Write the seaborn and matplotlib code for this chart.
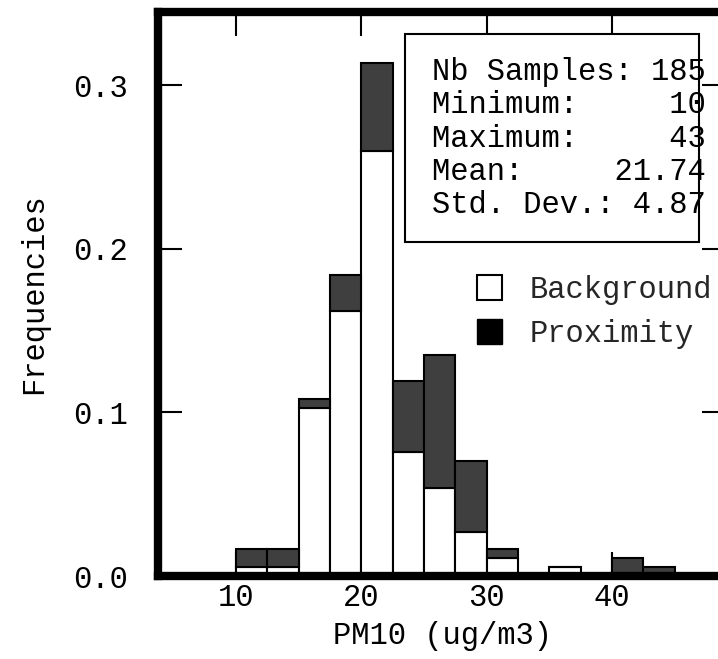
import pandas as pd
import seaborn as sns
import matplotlib.pyplot as plt
from matplotlib.lines import Line2D
from matplotlib.patches import Rectangle

# bins of 2.5 ug/m3, counts (185 samples in total)
bin_edges = [10, 12.5, 15, 17.5, 20, 22.5, 25, 27.5, 30, 32.5, 35, 37.5, 40, 42.5, 45]
background_counts = [1, 1, 19, 30, 48, 14, 10, 5, 2, 0, 1, 0, 0, 0]
proximity_counts = [2, 2, 1, 4, 10, 8, 15, 8, 1, 0, 0, 0, 2, 1]
n_samples = 185

stats_labels = ["Nb Samples:", "Minimum:", "Maximum:", "Mean:", "Std. Dev.:"]
stats_values = ["185", "10", "43", "21.74", "4.87"]

# one row per bin and group, weighted by relative frequency
mids = [(a + b) / 2 for a, b in zip(bin_edges[:-1], bin_edges[1:])]
df = pd.DataFrame({
    "PM10": mids + mids,
    "group": ["Background"] * len(mids) + ["Proximity"] * len(mids),
    "freq": [c / n_samples for c in background_counts + proximity_counts],
})

sns.set_theme(style="ticks")
plt.rcParams['font.family'] = ['Liberation Mono', 'DejaVu Sans Mono']
fs = 22

fig = plt.figure(figsize=(7.18, 6.59), dpi=100)
ax = fig.add_axes([0.2203, 0.1259, 0.7908, 0.8566])

sns.histplot(data=df, x="PM10", weights="freq", hue="group",
             hue_order=["Proximity", "Background"], multiple="stack",
             bins=bin_edges, palette={"Background": "white", "Proximity": "#3f3f3f"},
             edgecolor="black", linewidth=1.5, alpha=1, legend=False, ax=ax)

ax.set_xlim(3.79, 49.1)
ax.set_ylim(0, 0.345)
ax.set_xticks([10, 20, 30, 40])
ax.set_yticks([0.0, 0.1, 0.2, 0.3])
ax.set_yticklabels(["0.0", "0.1", "0.2", "0.3"])
ax.tick_params(direction="in", length=17, width=1.5, top=True, right=True,
               labelsize=fs, color="black", labelcolor="black")
ax.tick_params(axis="y", pad=22)
ax.tick_params(axis="x", pad=5)
for s in ax.spines.values():
    s.set_linewidth(6)
    s.set_color("black")
    s.set_zorder(5)

ax.set_xlabel("PM10 (ug/m3)", fontsize=fs, labelpad=6, color="black")
ax.set_ylabel("Frequencies", fontsize=fs, labelpad=17, color="black")

# statistics box
box = Rectangle((405 / 718, 1 - 242 / 659), (699 - 405) / 718, (242 - 34) / 659,
                transform=fig.transFigure, facecolor="white", edgecolor="black",
                linewidth=1.5, zorder=6)
ax.add_patch(box)
for i, (lab, val) in enumerate(zip(stats_labels, stats_values)):
    line = lab + " " * (15 - len(lab) - len(val)) + val
    fig.text(431.7 / 718, 1 - (80 + 33.3 * i) / 659, line, fontsize=fs,
             ha="left", va="baseline", color="black", zorder=7)

handles = [Line2D([0], [0], marker="s", linestyle="none", markersize=18,
                  markerfacecolor="white", markeredgecolor="black", markeredgewidth=1.5),
           Line2D([0], [0], marker="s", linestyle="none", markersize=18,
                  markerfacecolor="black", markeredgecolor="black")]
ax.legend(handles, ["Background", "Proximity"], loc="upper left",
          bbox_to_anchor=(458 / 718, 1 - 275 / 659), bbox_transform=fig.transFigure,
          frameon=False, fontsize=fs, handletextpad=0.34, labelspacing=0.45,
          borderpad=0, borderaxespad=0)

fig.savefig("out.png", dpi=100, facecolor="white")
